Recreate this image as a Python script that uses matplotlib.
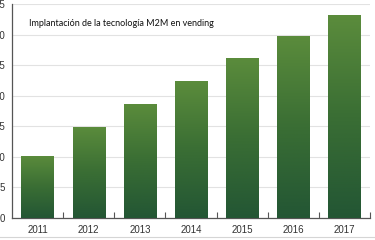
import matplotlib
matplotlib.use("Agg")
import matplotlib.pyplot as plt
import numpy as np
from matplotlib.colors import LinearSegmentedColormap
from matplotlib.lines import Line2D

years = ["2011", "2012", "2013", "2014", "2015", "2016", "2017"]
values = [10.2, 14.9, 18.7, 22.4, 26.2, 29.8, 33.2]
yticks = [0, 5, 10, 15, 20, 25, 30, 35]
title = "Implantación de la tecnología M2M en vending"

fig = plt.figure(figsize=(3.75, 2.4), dpi=100)
ax = fig.add_axes([0.032, 0.0917, 0.9547, 0.8913])

x = np.arange(len(years))
bars = ax.bar(x, values, width=0.63, color="#3f7236", edgecolor="none", zorder=2)

cmap = LinearSegmentedColormap.from_list("g", ["#235634", "#3a6e34", "#5b8c3c"])
grad = np.linspace(0, 1, 256).reshape(-1, 1)
for b in bars:
    x0, y0 = b.get_x(), b.get_y()
    w, h = b.get_width(), b.get_height()
    im = ax.imshow(grad, cmap=cmap, origin="lower", aspect="auto",
                   extent=[x0, x0 + w, y0, y0 + h], zorder=3)
    im.set_clip_path(b)

ax.set_xlim(-0.5, len(years) - 0.5)
ax.set_ylim(0, 35)
ax.set_yticks(yticks)
ax.set_yticklabels([str(v) for v in yticks])
ax.set_xticks(x)
ax.set_xticklabels(years)
ax.set_xticks(np.arange(0.5, len(years), 1.0), minor=True)

ax.tick_params(axis="x", which="major", length=0, pad=5, labelsize=7, labelcolor="#333333")
ax.tick_params(axis="x", which="minor", direction="in", length=4, width=0.8, color="#555555")
ax.tick_params(axis="y", length=0, pad=5, labelsize=7, labelcolor="#333333")
for t in ax.get_xticklabels() + ax.get_yticklabels():
    t.set_fontfamily("Liberation Sans")

ax.grid(axis="y", color="#e2e2e2", linewidth=0.8, zorder=0)
ax.set_axisbelow(True)
for s in ["top", "right"]:
    ax.spines[s].set_visible(False)
ax.spines["left"].set_color("#555555")
ax.spines["bottom"].set_color("#555555")
ax.spines["left"].set_linewidth(0.9)
ax.spines["bottom"].set_linewidth(0.9)

ax.text(0.048, 0.91, title, transform=ax.transAxes, fontsize=6.5, family="Lato",
        color="#111111", ha="left", va="center")

fig.add_artist(Line2D([0, 1], [1 - 237 / 240, 1 - 237 / 240], transform=fig.transFigure,
                      color="#d5d5d5", linewidth=0.8))

fig.savefig("out.png", dpi=100)
